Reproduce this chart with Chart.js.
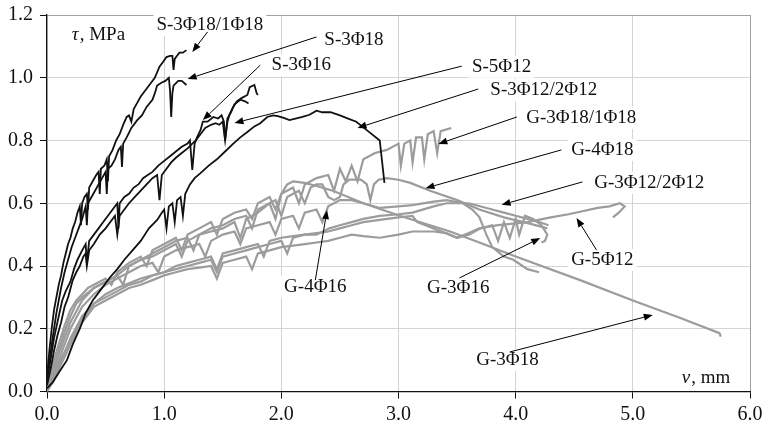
<!DOCTYPE html>
<html>
<head>
<meta charset="utf-8">
<script src="https://cdn.jsdelivr.net/npm/chart.js@4.4.0/dist/chart.umd.min.js"></script>
<style>
  html, body { margin: 0; padding: 0; background: #fff; }
  #wrap { width: 766px; height: 426px; }
</style>
</head>
<body>
<div id="wrap"><canvas id="c" width="766" height="426"></canvas></div>
<script>
// Bond stress τ (MPa) versus slip v (mm)
const xTicks = [0, 1, 2, 3, 4, 5, 6];
const yTicks = [0, 0.2, 0.4, 0.6, 0.8, 1.0, 1.2];

// S specimens (black)
const S_3F18_1F18 = [[0,0.05],[0.02,0.13],[0.04,0.2],[0.06,0.26],[0.08,0.3],[0.1,0.34],[0.12,0.37],[0.14,0.41],[0.16,0.44],[0.18,0.47],[0.2,0.49],[0.22,0.52],[0.24,0.54],[0.26,0.57],[0.28,0.59],[0.29,0.53],[0.3,0.6],[0.32,0.62],[0.34,0.63],[0.35,0.58],[0.36,0.65],[0.39,0.67],[0.42,0.69],[0.44,0.7],[0.45,0.63],[0.46,0.71],[0.49,0.72],[0.51,0.74],[0.52,0.67],[0.53,0.75],[0.56,0.77],[0.59,0.8],[0.62,0.82],[0.65,0.85],[0.68,0.875],[0.7,0.88],[0.72,0.86],[0.74,0.9],[0.77,0.92],[0.8,0.94],[0.84,0.96],[0.88,0.98],[0.92,1.0],[0.96,1.035],[0.99,1.05],[1.02,1.066],[1.05,1.07],[1.07,1.07],[1.08,1.025],[1.09,1.06],[1.11,1.07],[1.13,1.08],[1.16,1.08],[1.19,1.088]];
const S_3F18 = [[0,0.03],[0.02,0.09],[0.04,0.15],[0.06,0.2],[0.08,0.25],[0.1,0.29],[0.12,0.33],[0.15,0.38],[0.18,0.42],[0.21,0.46],[0.24,0.49],[0.27,0.52],[0.3,0.55],[0.33,0.59],[0.34,0.53],[0.35,0.6],[0.38,0.62],[0.41,0.64],[0.44,0.66],[0.47,0.68],[0.5,0.7],[0.51,0.63],[0.52,0.71],[0.55,0.72],[0.58,0.74],[0.61,0.77],[0.63,0.78],[0.64,0.716],[0.65,0.79],[0.68,0.81],[0.72,0.84],[0.77,0.865],[0.81,0.88],[0.85,0.907],[0.9,0.93],[0.92,0.95],[0.94,0.975],[0.98,0.985],[1.01,0.99],[1.04,1.0],[1.05,0.96],[1.06,0.875],[1.07,0.95],[1.08,0.975],[1.12,0.99],[1.15,0.99],[1.19,0.977]];
const S_3F16 = [[0,0.04],[0.03,0.1],[0.06,0.17],[0.1,0.24],[0.13,0.29],[0.16,0.32],[0.2,0.35],[0.23,0.39],[0.26,0.42],[0.3,0.45],[0.33,0.47],[0.34,0.41],[0.36,0.48],[0.4,0.5],[0.44,0.52],[0.48,0.54],[0.52,0.56],[0.56,0.58],[0.6,0.6],[0.61,0.52],[0.62,0.6],[0.66,0.62],[0.7,0.63],[0.74,0.65],[0.78,0.66],[0.82,0.68],[0.86,0.69],[0.9,0.7],[0.95,0.72],[1.0,0.735],[1.05,0.75],[1.1,0.765],[1.15,0.78],[1.2,0.79],[1.22,0.8],[1.24,0.706],[1.26,0.79],[1.28,0.81],[1.31,0.833],[1.33,0.86],[1.37,0.86],[1.42,0.875],[1.46,0.87],[1.49,0.88],[1.51,0.86],[1.52,0.8],[1.54,0.87],[1.57,0.89],[1.59,0.907],[1.62,0.925],[1.66,0.935],[1.71,0.945],[1.73,0.97],[1.77,0.977],[1.79,0.95],[1.8,0.945]];
const S_5F12 = [[0,0.02],[0.03,0.07],[0.06,0.13],[0.09,0.18],[0.12,0.22],[0.15,0.27],[0.18,0.3],[0.22,0.355],[0.25,0.38],[0.28,0.4],[0.31,0.43],[0.33,0.44],[0.34,0.4],[0.36,0.45],[0.4,0.47],[0.45,0.5],[0.5,0.52],[0.55,0.545],[0.58,0.56],[0.6,0.5],[0.62,0.56],[0.66,0.58],[0.7,0.6],[0.75,0.62],[0.8,0.64],[0.85,0.66],[0.9,0.68],[0.94,0.69],[0.96,0.61],[0.98,0.69],[1.02,0.71],[1.06,0.73],[1.1,0.745],[1.15,0.76],[1.2,0.775],[1.24,0.79],[1.27,0.8],[1.31,0.82],[1.35,0.84],[1.4,0.85],[1.44,0.855],[1.47,0.85],[1.5,0.86],[1.52,0.8],[1.54,0.86],[1.56,0.885],[1.6,0.915],[1.65,0.93],[1.69,0.925],[1.72,0.918]];
const S_3F12_2F12 = [[0,0.01],[0.05,0.03],[0.1,0.06],[0.17,0.1],[0.22,0.15],[0.28,0.2],[0.33,0.25],[0.39,0.29],[0.45,0.32],[0.54,0.365],[0.6,0.39],[0.66,0.42],[0.73,0.45],[0.8,0.48],[0.87,0.52],[0.94,0.547],[0.98,0.57],[1.0,0.58],[1.02,0.52],[1.04,0.59],[1.07,0.6],[1.09,0.54],[1.11,0.61],[1.14,0.62],[1.16,0.56],[1.18,0.63],[1.22,0.66],[1.26,0.68],[1.31,0.696],[1.38,0.72],[1.45,0.74],[1.52,0.765],[1.59,0.79],[1.65,0.81],[1.71,0.827],[1.77,0.845],[1.82,0.855],[1.88,0.875],[1.93,0.88],[1.97,0.878],[2.02,0.872],[2.07,0.865],[2.12,0.87],[2.18,0.875],[2.24,0.882],[2.3,0.895],[2.35,0.89],[2.42,0.89],[2.5,0.88],[2.57,0.87],[2.64,0.86],[2.74,0.83],[2.84,0.8],[2.88,0.665]];

// G specimens (grey)
const G_3F18_1F18 = [[0,0.02],[0.03,0.06],[0.06,0.1],[0.1,0.15],[0.15,0.21],[0.2,0.26],[0.25,0.29],[0.3,0.31],[0.35,0.33],[0.4,0.34],[0.5,0.36],[0.55,0.34],[0.6,0.38],[0.7,0.41],[0.8,0.43],[0.85,0.4],[0.9,0.45],[1.0,0.47],[1.1,0.49],[1.15,0.45],[1.2,0.5],[1.3,0.52],[1.4,0.54],[1.45,0.5],[1.5,0.55],[1.6,0.57],[1.7,0.58],[1.75,0.55],[1.8,0.6],[1.9,0.62],[1.95,0.58],[2.0,0.63],[2.1,0.65],[2.15,0.6],[2.2,0.66],[2.3,0.68],[2.4,0.69],[2.45,0.64],[2.5,0.71],[2.55,0.67],[2.6,0.72],[2.65,0.67],[2.7,0.74],[2.8,0.76],[2.9,0.77],[3.0,0.79],[3.02,0.72],[3.05,0.79],[3.1,0.8],[3.12,0.73],[3.15,0.81],[3.2,0.81],[3.22,0.74],[3.25,0.82],[3.3,0.83],[3.33,0.76],[3.36,0.83],[3.45,0.84]];
const G_4F18 = [[0,0.01],[0.05,0.06],[0.1,0.12],[0.15,0.17],[0.2,0.22],[0.3,0.29],[0.4,0.33],[0.5,0.35],[0.6,0.37],[0.7,0.4],[0.8,0.42],[0.9,0.44],[1.0,0.46],[1.1,0.48],[1.2,0.49],[1.25,0.45],[1.3,0.5],[1.4,0.52],[1.5,0.53],[1.6,0.55],[1.7,0.56],[1.75,0.52],[1.8,0.58],[1.9,0.6],[1.95,0.61],[2.0,0.56],[2.05,0.62],[2.1,0.63],[2.15,0.64],[2.2,0.6],[2.25,0.65],[2.3,0.66],[2.35,0.66],[2.4,0.62],[2.45,0.61],[2.5,0.62],[2.53,0.66],[2.58,0.675],[2.68,0.675],[2.73,0.66],[2.76,0.61],[2.79,0.66],[2.83,0.675],[2.9,0.68],[3.0,0.675],[3.1,0.665],[3.27,0.64],[3.5,0.61],[3.69,0.58],[3.9,0.555],[4.12,0.535],[4.27,0.52]];
const G_3F18 = [[0,0.02],[0.05,0.07],[0.1,0.13],[0.15,0.19],[0.2,0.24],[0.25,0.28],[0.3,0.3],[0.4,0.33],[0.5,0.35],[0.6,0.37],[0.65,0.34],[0.7,0.4],[0.8,0.42],[0.9,0.43],[1.0,0.45],[1.1,0.47],[1.15,0.43],[1.2,0.48],[1.3,0.5],[1.4,0.51],[1.5,0.52],[1.6,0.54],[1.65,0.49],[1.7,0.55],[1.8,0.57],[1.9,0.6],[1.95,0.55],[2.0,0.63],[2.05,0.66],[2.1,0.67],[2.2,0.665],[2.3,0.655],[2.44,0.64],[2.7,0.6],[3.01,0.56],[3.44,0.51],[3.69,0.475],[4.0,0.43],[4.55,0.355],[5.0,0.29],[5.4,0.235],[5.74,0.186],[5.75,0.175]];
const G_4F16 = [[0,0.01],[0.05,0.05],[0.1,0.1],[0.2,0.2],[0.3,0.27],[0.4,0.31],[0.5,0.34],[0.6,0.36],[0.7,0.38],[0.8,0.4],[0.9,0.41],[0.95,0.38],[1.0,0.43],[1.1,0.45],[1.2,0.46],[1.3,0.47],[1.35,0.43],[1.4,0.48],[1.5,0.5],[1.6,0.51],[1.65,0.47],[1.7,0.52],[1.8,0.53],[1.9,0.54],[1.95,0.5],[2.0,0.55],[2.1,0.56],[2.15,0.52],[2.2,0.57],[2.3,0.58],[2.35,0.54],[2.4,0.59],[2.5,0.61],[2.6,0.61],[2.7,0.6],[2.84,0.585],[3.0,0.59],[3.12,0.594],[3.3,0.605],[3.41,0.61],[3.55,0.6],[3.63,0.58],[3.69,0.556],[3.75,0.5],[3.8,0.46],[3.9,0.43],[3.98,0.42],[4.1,0.39],[4.2,0.38]];
const G_3F12_2F12 = [[0,0],[0.05,0.04],[0.1,0.08],[0.2,0.17],[0.3,0.24],[0.4,0.28],[0.5,0.3],[0.6,0.32],[0.7,0.34],[0.8,0.35],[0.9,0.37],[1.0,0.38],[1.1,0.39],[1.2,0.4],[1.3,0.41],[1.4,0.42],[1.45,0.38],[1.5,0.43],[1.6,0.44],[1.7,0.45],[1.8,0.46],[1.9,0.47],[2.0,0.48],[2.05,0.44],[2.1,0.49],[2.2,0.5],[2.3,0.5],[2.41,0.52],[2.5,0.53],[2.6,0.54],[2.7,0.55],[2.84,0.56],[3.0,0.565],[3.12,0.57],[3.3,0.59],[3.41,0.6],[3.6,0.6],[3.8,0.58],[3.9,0.57],[4.0,0.56],[4.1,0.55],[4.2,0.54],[4.28,0.53]];
const G_5F12 = [[0,0],[0.05,0.03],[0.1,0.07],[0.2,0.15],[0.3,0.22],[0.4,0.27],[0.5,0.29],[0.6,0.31],[0.7,0.33],[0.8,0.34],[0.9,0.355],[1.0,0.37],[1.1,0.38],[1.2,0.39],[1.3,0.395],[1.4,0.4],[1.45,0.36],[1.5,0.41],[1.6,0.42],[1.7,0.43],[1.75,0.39],[1.8,0.44],[1.9,0.45],[2.0,0.46],[2.1,0.465],[2.2,0.47],[2.3,0.475],[2.4,0.48],[2.5,0.49],[2.6,0.5],[2.7,0.495],[2.84,0.49],[3.0,0.5],[3.12,0.51],[3.3,0.51],[3.41,0.505],[3.5,0.49],[3.6,0.505],[3.69,0.52],[3.85,0.53],[3.98,0.535],[4.1,0.54],[4.3,0.555],[4.45,0.565],[4.55,0.573],[4.7,0.585],[4.8,0.59],[4.89,0.6],[4.93,0.59],[4.88,0.57],[4.83,0.555]];
const G_3F16 = [[0,0.01],[0.05,0.05],[0.1,0.09],[0.2,0.16],[0.3,0.23],[0.4,0.28],[0.5,0.31],[0.6,0.33],[0.7,0.345],[0.8,0.36],[0.9,0.37],[1.0,0.38],[1.1,0.4],[1.2,0.41],[1.3,0.42],[1.4,0.43],[1.45,0.39],[1.5,0.44],[1.6,0.45],[1.7,0.46],[1.8,0.47],[1.85,0.43],[1.9,0.48],[2.0,0.49],[2.1,0.495],[2.2,0.5],[2.3,0.505],[2.4,0.51],[2.5,0.52],[2.6,0.53],[2.7,0.54],[2.84,0.547],[3.0,0.555],[3.12,0.56],[3.16,0.54],[3.3,0.52],[3.5,0.49],[3.6,0.5],[3.7,0.52],[3.8,0.53],[3.85,0.48],[3.9,0.54],[3.95,0.49],[4.0,0.55],[4.03,0.5],[4.08,0.56],[4.15,0.55],[4.22,0.53],[4.27,0.5],[4.25,0.48],[4.22,0.475]];

const blackSeries = [S_3F18_1F18, S_3F18, S_3F16, S_5F12, S_3F12_2F12];
const blackNames = ['S-3Φ18/1Φ18', 'S-3Φ18', 'S-3Φ16', 'S-5Φ12', 'S-3Φ12/2Φ12'];
const greySeries = [G_3F18_1F18, G_4F18, G_3F18, G_4F16, G_3F12_2F12, G_5F12, G_3F16];
const greyNames = ['G-3Φ18/1Φ18', 'G-4Φ18', 'G-3Φ18', 'G-4Φ16', 'G-3Φ12/2Φ12', 'G-5Φ12', 'G-3Φ16'];

// Callout labels: text, centre (v, τ), arrow tail (v, τ), arrow head (v, τ)
const calloutText = ['S-3Φ18/1Φ18', 'S-3Φ18', 'S-3Φ16', 'S-5Φ12', 'S-3Φ12/2Φ12', 'G-3Φ18/1Φ18', 'G-4Φ18', 'G-3Φ12/2Φ12', 'G-5Φ12', 'G-3Φ16', 'G-4Φ16', 'G-3Φ18'];
const calloutAt   = [[1.39,1.168],[2.62,1.12],[2.17,1.04],[3.88,1.035],[4.24,0.96],[4.56,0.872],[4.74,0.77],[5.14,0.665],[4.74,0.419],[3.51,0.33],[2.29,0.333],[3.93,0.1]];
const arrowFrom   = [[1.37,1.146],[2.30,1.13],[1.82,1.04],[3.54,1.037],[3.68,0.964],[4.01,0.875],[4.39,0.77],[4.57,0.668],[4.69,0.451],[3.52,0.362],[2.29,0.355],[3.95,0.126]];
const arrowTo     = [[1.24,1.082],[1.20,0.996],[1.33,0.865],[1.60,0.856],[2.65,0.84],[3.34,0.789],[3.23,0.648],[3.88,0.595],[4.52,0.553],[4.21,0.489],[2.39,0.578],[5.17,0.244]];

const SERIF = '"Liberation Serif", "Times New Roman", serif';
const LABEL_SIZE = 19;

const datasets = [];
blackSeries.forEach((s, i) => datasets.push({
  label: blackNames[i],
  data: s.map(p => ({x: p[0], y: p[1]})),
  borderColor: '#111111', borderWidth: 1.8, pointRadius: 0, tension: 0, order: 0
}));
greySeries.forEach((s, i) => datasets.push({
  label: greyNames[i],
  data: s.map(p => ({x: p[0], y: p[1]})),
  borderColor: '#9c9c9c', borderWidth: 2.2, pointRadius: 0, tension: 0, order: 1
}));

const callouts = {
  id: 'callouts',
  afterDatasetsDraw(chart) {
    const {ctx, scales: {x, y}} = chart;
    const px = v => x.getPixelForValue(v);
    const py = v => y.getPixelForValue(v);
    const font = LABEL_SIZE + 'px ' + SERIF;
    const ifont = 'italic ' + LABEL_SIZE + 'px ' + SERIF;
    ctx.save();
    ctx.font = font;
    ctx.textAlign = 'center';
    ctx.textBaseline = 'middle';
    // white boxes behind the labels
    calloutText.forEach((t, i) => {
      const w = ctx.measureText(t).width;
      const cx = px(calloutAt[i][0]), cy = py(calloutAt[i][1]);
      ctx.fillStyle = '#ffffff';
      ctx.fillRect(cx - w / 2 - 3, cy - 11, w + 6, 22);
    });
    // arrows
    ctx.strokeStyle = '#000'; ctx.fillStyle = '#000'; ctx.lineWidth = 1;
    arrowFrom.forEach((f, i) => {
      const x0 = px(f[0]), y0 = py(f[1]);
      const x1 = px(arrowTo[i][0]), y1 = py(arrowTo[i][1]);
      const a = Math.atan2(y1 - y0, x1 - x0);
      const L = 9, W = 3.5;
      const bx = x1 - L * Math.cos(a), by = y1 - L * Math.sin(a);
      ctx.beginPath(); ctx.moveTo(x0, y0); ctx.lineTo(bx, by); ctx.stroke();
      ctx.beginPath();
      ctx.moveTo(x1, y1);
      ctx.lineTo(bx + W * Math.sin(a), by - W * Math.cos(a));
      ctx.lineTo(bx - W * Math.sin(a), by + W * Math.cos(a));
      ctx.closePath(); ctx.fill();
    });
    // label text
    ctx.fillStyle = '#111';
    calloutText.forEach((t, i) => ctx.fillText(t, px(calloutAt[i][0]), py(calloutAt[i][1])));
    // axis titles inside the plot
    const drawTitle = (sym, rest, cx, cy) => {
      ctx.font = ifont;
      const w1 = ctx.measureText(sym).width;
      ctx.font = font;
      const w2 = ctx.measureText(rest).width;
      const left = cx - (w1 + w2) / 2;
      ctx.textAlign = 'left';
      ctx.fillStyle = '#fff';
      ctx.fillRect(left - 3, cy - 11, w1 + w2 + 6, 22);
      ctx.fillStyle = '#111';
      ctx.font = ifont;
      ctx.fillText(sym, left, cy);
      ctx.font = font;
      ctx.fillText(rest, left + w1 + 1, cy);
    };
    drawTitle('τ', ', MPa', px(0.435), py(1.136));
    drawTitle('v', ', mm', px(5.62), py(0.043));
    ctx.restore();
  }
};

new Chart(document.getElementById('c'), {
  type: 'line',
  data: { datasets },
  options: {
    responsive: false,
    animation: false,
    devicePixelRatio: 1,
    layout: { padding: { top: 15, right: 16, left: 0, bottom: 0 } },
    plugins: { legend: { display: false }, tooltip: { enabled: false } },
    scales: {
      x: {
        type: 'linear', min: 0, max: 6,
        afterBuildTicks: s => { s.ticks = xTicks.map(v => ({value: v})); },
        ticks: { callback: v => v.toFixed(1), color: '#111', font: { family: SERIF, size: 20 }, padding: 4, maxRotation: 0 },
        grid: { color: c => (c.tick && c.tick.value === 6) ? '#a0a0a0' : '#d4d4d4', lineWidth: 1, tickLength: 7, tickColor: '#111' },
        border: { color: '#111', width: 1.3 },
        afterFit: s => { s.height = 34.5; s.paddingLeft = 0; s.paddingRight = 0; }
      },
      y: {
        type: 'linear', min: 0, max: 1.2,
        afterBuildTicks: s => { s.ticks = yTicks.map(v => ({value: v})); },
        ticks: { callback: v => v.toFixed(1), color: '#111', font: { family: SERIF, size: 20 }, padding: 7 },
        grid: { color: c => (c.tick && Math.abs(c.tick.value - 1.2) < 1e-9) ? '#a0a0a0' : '#d4d4d4', lineWidth: 1, tickLength: 7, tickColor: '#111' },
        border: { color: '#111', width: 1.3 },
        afterFit: s => { s.width = 47; s.paddingTop = 0; s.paddingBottom = 0; }
      }
    }
  },
  plugins: [callouts]
});
</script>
</body>
</html>
